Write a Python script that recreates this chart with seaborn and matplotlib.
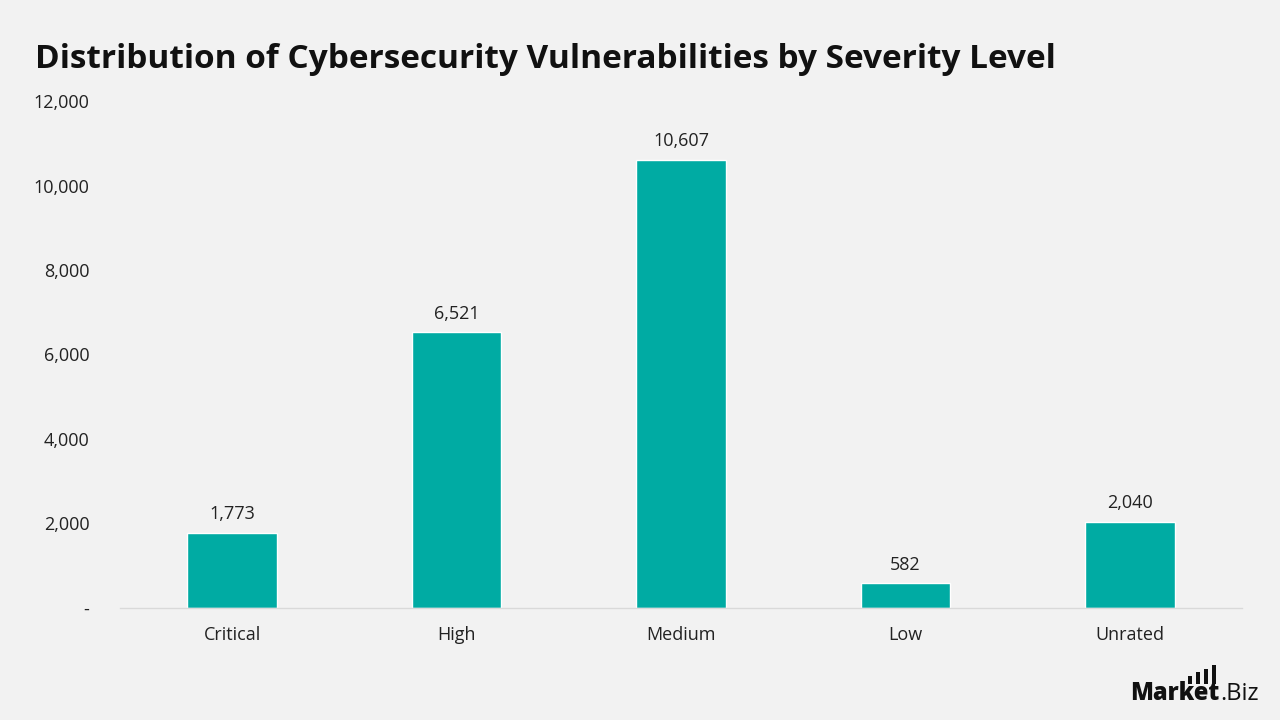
import numpy as np
import pandas as pd
import matplotlib.pyplot as plt
import seaborn as sb

# data
categories = ["Critical", "High", "Medium", "Low", "Unrated"]
counts = [1773, 6521, 10607, 582, 2040]
yticks = [0, 2000, 4000, 6000, 8000, 10000, 12000]

bg = "#f2f2f2"
teal = "#00aba3"

sb.set_theme(style="white")
plt.rcParams['font.family'] = ['Open Sans', 'DejaVu Sans']

df = pd.DataFrame({"Severity": categories, "Count": counts})

fig = plt.figure(figsize=(12.8, 7.2), dpi=100, facecolor=bg)
ax = fig.add_axes([0.09375, 0.1556, 0.8766, 0.7041])
ax.set_facecolor(bg)

sb.barplot(data=df, x="Severity", y="Count", color=teal, width=0.4,
           saturation=1, ax=ax)

ax.set_xlim(-0.5, 4.5)
ax.set_ylim(0, 12000)
ax.set_yticks(yticks)
ax.set_yticklabels(["-" if v == 0 else f"{v:,}" for v in yticks])
ax.set_xlabel("")
ax.set_ylabel("")
ax.tick_params(axis="both", length=0, labelsize=13, colors="#222222")
ax.tick_params(axis="x", pad=13)
ax.tick_params(axis="y", pad=22)

for s in ["top", "right", "left"]:
    ax.spines[s].set_visible(False)
ax.spines["bottom"].set_color("#d9d9d9")
ax.spines["bottom"].set_linewidth(1)

# bar labels
for c in ax.containers:
    ax.bar_label(c, labels=[f"{v:,}" for v in counts], padding=7,
                 fontsize=13, color="#222222")

fig.text(0.027, 0.918, "Distribution of Cybersecurity Vulnerabilities by Severity Level",
         fontsize=24, fontweight="bold", color="#111111", va="center", ha="left")

# logo
t1 = fig.text(0.8828, 0.028, "Market", fontsize=17, fontweight="heavy", color="#111111",
              ha="left", va="baseline")
r = fig.canvas.get_renderer()
bb = t1.get_window_extent(renderer=r)
x_end = bb.x1 / fig.bbox.width
fig.text(x_end + 0.001, 0.028, ".Biz", fontsize=17, color="#111111", ha="left", va="baseline")
for i, h in enumerate([0.011, 0.016, 0.021, 0.027]):
    fig.add_artist(plt.Rectangle((x_end - 0.0245 + i * 0.0062, 0.050), 0.0032, h,
                                 transform=fig.transFigure, color="#111111", lw=0))

fig.savefig("out.png", dpi=100, facecolor=bg)
